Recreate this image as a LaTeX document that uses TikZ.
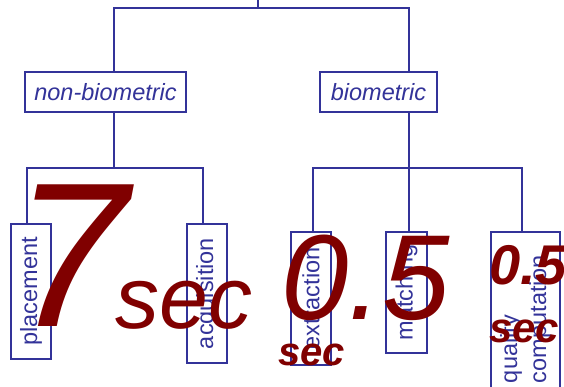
\documentclass[tikz,border=0pt]{standalone}
\usepackage{fontspec}
\setmainfont{Liberation Sans}
\definecolor{tblue}{RGB}{51,51,153}
\definecolor{tred}{RGB}{128,0,0}
\begin{document}
\begin{tikzpicture}[x=1pt,y=-1pt,
 conn/.style={draw=tblue, line width=1.8pt},
 catbox/.style={draw=tblue, line width=1.3pt, text=tblue, inner sep=0pt, font=\fontsize{23.5}{28}\selectfont\itshape},
 leafbox/.style={draw=tblue, line width=1.3pt, text=tblue, inner sep=0pt, rotate=90, font=\fontsize{23.5}{29}\selectfont},
 big/.style={text=tred, inner sep=0pt, anchor=base west}
]
\useasboundingbox (0,0) rectangle (564,387);
\clip (0,0) rectangle (564,387);
\coordinate (root) at (258,-2);
\coordinate (rj) at (258,8);
\coordinate (nbx) at (114,0);
\coordinate (bmx) at (409,0);
\coordinate (plx) at (27,0);
\coordinate (acqx) at (203,0);
\coordinate (exx) at (313,0);
\coordinate (qcx) at (522,0);
\coordinate (nbj) at (114,168);
\coordinate (bj) at (409,168);

\node[catbox, minimum width=161pt, minimum height=40pt] (nb) at (105.5,92) {non-biometric};
\node[catbox, minimum width=117pt, minimum height=40pt] (bm) at (378.5,92) {biometric};
\node[leafbox, minimum width=135pt, minimum height=40pt] (pl) at (31,291.5) {placement};
\node[leafbox, minimum width=139pt, minimum height=40pt] (acq) at (207,293.5) {acquisition};
\node[leafbox, minimum width=133pt, minimum height=40pt] (ex) at (311,298.5) {extraction};
\node[leafbox, minimum width=121pt, minimum height=41pt] (ma) at (406.5,292.5) {matching};
\node[leafbox, minimum width=174pt, minimum height=69pt, align=left] (qc) at (525.5,319) {quality\\computation};

\draw[conn] (root) -- (rj);
\draw[conn] (nb.north -| nbx) |- (rj) -| (bm.north -| bmx);
\draw[conn] (nb.south -| nbx) -- (nbj);
\draw[conn] (pl.east -| plx) |- (nbj) -| (acq.east -| acqx);
\draw[conn] (bm.south -| bmx) -- (bj);
\draw[conn] (ex.east -| exx) |- (bj) -| (qc.east -| qcx);
\draw[conn] (bj) -- (ma.east -| bmx);

\node[big, font=\fontsize{206}{206}\selectfont\itshape] (seven) at (13,326) {7};
\node[big, font=\fontsize{88}{88}\selectfont\itshape] (sec1) at (115,328) {sec};
\node[big, font=\fontsize{121}{121}\selectfont\itshape] (half) at (281,319) {0.5};
\node[big, font=\fontsize{40}{40}\selectfont\bfseries\itshape] (sec2) at (278,365) {sec};
\node[big, font=\fontsize{56}{56}\selectfont\bfseries\itshape] (half2) at (489,284) {0.5};
\node[big, font=\fontsize{42}{42}\selectfont\bfseries\itshape] (sec3) at (489,342) {sec};
\end{tikzpicture}
\end{document}
